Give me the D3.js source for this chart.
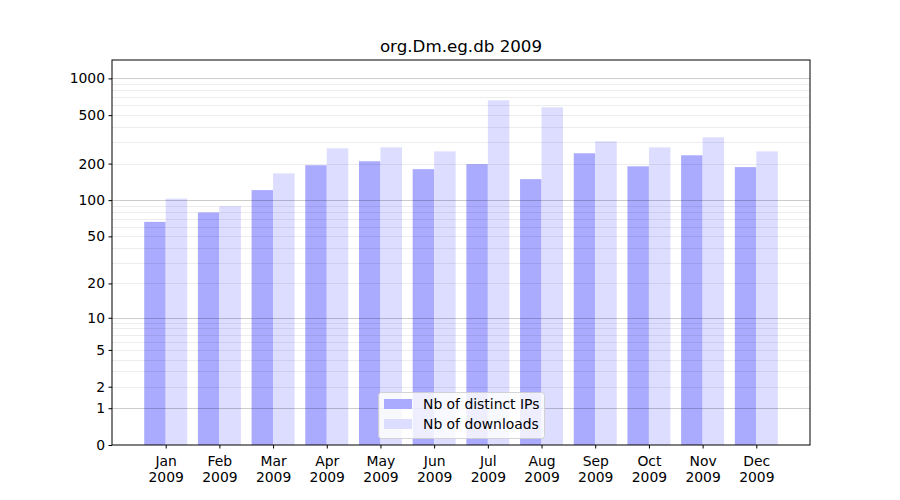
<!DOCTYPE html>
<html><head><meta charset="utf-8">
<script src="https://cdn.jsdelivr.net/npm/d3@7"></script>
<style>body{margin:0;background:#fff;font-family:"DejaVu Sans",sans-serif;}</style>
</head><body><svg id="c" width="900" height="500"></svg>
<script>
const months = ["Jan","Feb","Mar","Apr","May","Jun","Jul","Aug","Sep","Oct","Nov","Dec"];
const year = "2009";
const distinctIPs = [66, 79, 121, 194, 209, 180, 198, 149, 243, 190, 234, 187];
const downloads = [103, 89, 166, 267, 272, 252, 661, 579, 305, 272, 329, 252];
const yTickValues = [0, 1, 2, 5, 10, 20, 50, 100, 200, 500, 1000];
const majorGrid = [1, 10, 100, 1000];
const minorGrid = [2,3,4,5,6,7,8,9,20,30,40,50,60,70,80,90,200,300,400,500,600,700,800,900];
const title = "org.Dm.eg.db 2009";
const seriesNames = ["Nb of distinct IPs", "Nb of downloads"];
const colors = ["#aaaaff", "#ddddff"];

const svg = d3.select("#c");
const L = 112, R = 810, T = 60, B = 445;
const x = d3.scaleLinear().domain([0, 13]).range([L, R]);
const y = d3.scaleSymlog().constant(1).domain([0, 1415]).range([B, T]);
const step = x(1) - x(0);
const bw = step * 0.4;

// bars
const g = svg.append("g");
g.selectAll("rect.ip").data(distinctIPs).join("rect")
  .attr("x", (d,i) => x(i+1) - bw).attr("y", d => y(d))
  .attr("width", bw).attr("height", d => B - y(d)).attr("fill", colors[0]);
g.selectAll("rect.dl").data(downloads).join("rect")
  .attr("x", (d,i) => x(i+1)).attr("y", d => y(d))
  .attr("width", bw).attr("height", d => B - y(d)).attr("fill", colors[1]);

// grid
svg.append("g").selectAll("line").data(minorGrid).join("line")
  .attr("x1", L).attr("x2", R).attr("y1", d => Math.round(y(d))+0.5).attr("y2", d => Math.round(y(d))+0.5)
  .attr("stroke", "#000").attr("stroke-opacity", 0.07).attr("stroke-width", 1);
svg.append("g").selectAll("line").data(majorGrid).join("line")
  .attr("x1", L).attr("x2", R).attr("y1", d => Math.round(y(d))+0.5).attr("y2", d => Math.round(y(d))+0.5)
  .attr("stroke", "#000").attr("stroke-opacity", 0.2).attr("stroke-width", 1);

// frame
svg.append("rect").attr("x", L).attr("y", T).attr("width", R-L).attr("height", B-T)
  .attr("fill", "none").attr("stroke", "#000").attr("stroke-width", 1);

// y axis
const yAxis = d3.axisLeft(y).tickValues(yTickValues).tickFormat(d3.format("d")).tickSize(3.5).tickPadding(3.5);
const ya = svg.append("g").attr("transform", `translate(${L},0)`).call(yAxis);
ya.select(".domain").remove();
ya.selectAll("text").attr("font-size", 13.9).attr("font-family", "DejaVu Sans").attr("fill", "#000");
ya.selectAll("line").attr("stroke", "#000");

// x axis
const xAxis = d3.axisBottom(x).tickValues(d3.range(1, 13)).tickFormat(() => "").tickSize(3.5);
const xa = svg.append("g").attr("transform", `translate(0,${B})`).call(xAxis);
xa.select(".domain").remove();
xa.selectAll("line").attr("stroke", "#000");
xa.selectAll(".tick").each(function(d) {
  const t = d3.select(this).append("text").attr("text-anchor", "middle")
    .attr("font-size", 13.9).attr("font-family", "DejaVu Sans").attr("fill", "#000");
  t.append("tspan").attr("x", 0).attr("y", 21).text(months[d-1]);
  t.append("tspan").attr("x", 0).attr("y", 37).text(year);
});

// title
svg.append("text").attr("x", (L+R)/2).attr("y", 52).attr("text-anchor", "middle")
  .attr("font-size", 16.7).attr("font-family", "DejaVu Sans").text(title);

// legend
const lg = svg.append("g").attr("transform", "translate(378,392)");
lg.append("rect").attr("x", 0.5).attr("y", 0.5).attr("width", 166).attr("height", 46).attr("rx", 3)
  .attr("fill", "#fff").attr("fill-opacity", 0.8).attr("stroke", "#ccc").attr("stroke-opacity", 0.8);
seriesNames.forEach((n, i) => {
  lg.append("rect").attr("x", 6).attr("y", 7 + i*20).attr("width", 28).attr("height", 10).attr("fill", colors[i]);
  lg.append("text").attr("x", 45).attr("y", 17 + i*20).attr("font-size", 13.9)
    .attr("font-family", "DejaVu Sans").text(n);
});
</script></body></html>
